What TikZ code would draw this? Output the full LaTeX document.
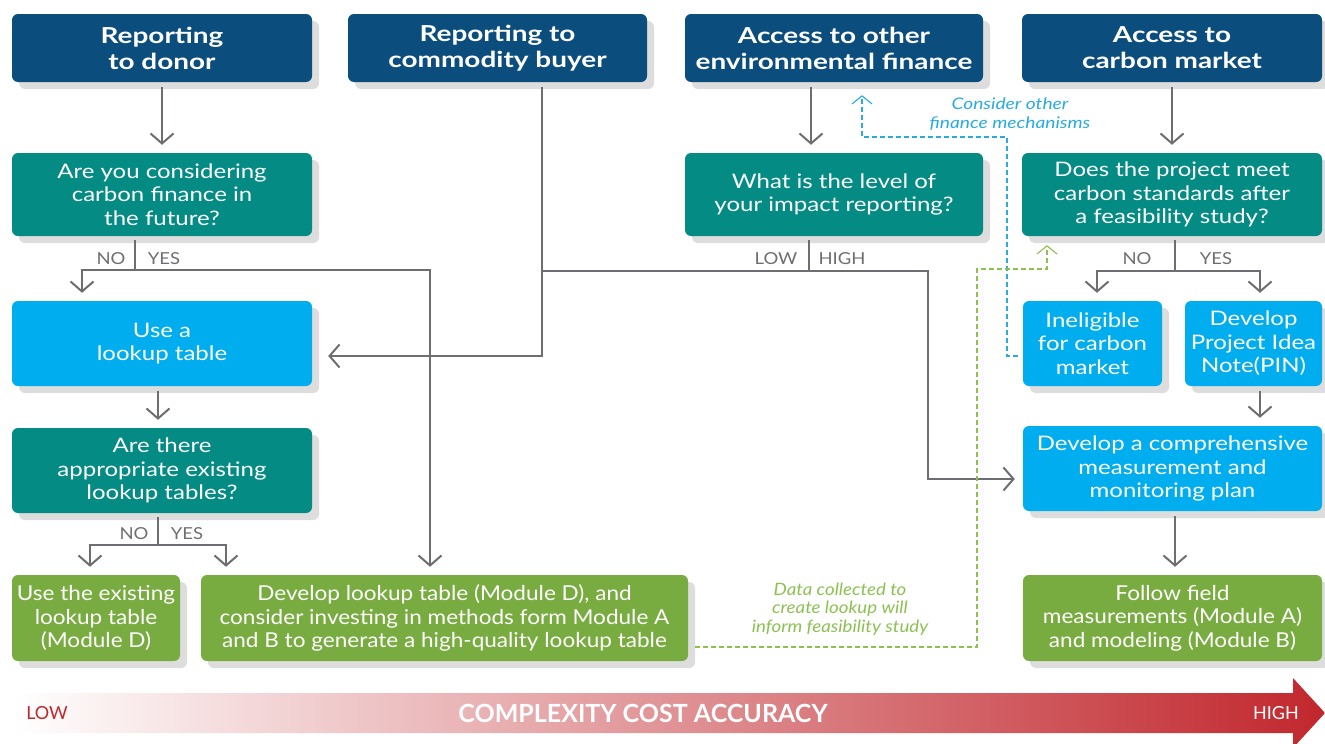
\documentclass[tikz,border=0pt]{standalone}
\usepackage{fontspec}
\setmainfont{Lato}
\newfontfamily\headfont[FakeStretch=1.27]{Lato}
\newfontfamily\boxfont[FakeStretch=1.2]{Lato}
\newfontfamily\leaffont[FakeStretch=1.1]{Lato}
\newfontfamily\tagfont[FakeStretch=1.12]{Lato}
\usetikzlibrary{arrows.meta,shadows}

\definecolor{navy}{HTML}{0B4D7D}
\definecolor{askteal}{HTML}{038B84}
\definecolor{skyblue}{HTML}{00AEEF}
\definecolor{leafgreen}{HTML}{79AC40}
\definecolor{linegray}{HTML}{6D6E71}
\definecolor{shadowgray}{HTML}{DDDDDD}
\definecolor{noteblue}{HTML}{29ABE2}
\definecolor{notegreen}{HTML}{8CC152}
\definecolor{arrowred}{HTML}{C1272D}
\definecolor{midsalmon}{HTML}{DF9A88}

\tikzset{
  box/.style={rounded corners=6pt, align=center, text=white, inner sep=2pt,
    general shadow={fill=shadowgray, shadow xshift=7pt, shadow yshift=-7pt}},
  head/.style={box, fill=navy, minimum height=68pt,
    font=\headfont\fontsize{22}{26}\selectfont\bfseries},
  ask/.style={box, fill=askteal, minimum height=83pt,
    font=\boxfont\fontsize{20}{23.5}\selectfont},
  act/.style={box, fill=skyblue, minimum height=85pt,
    font=\boxfont\fontsize{20}{23.5}\selectfont},
  leaf/.style={box, fill=leafgreen, minimum height=86pt,
    font=\leaffont\fontsize{20.5}{23.5}\selectfont},
  wire/.style={draw=linegray, line width=2pt},
  flow/.style={wire, -{Straight Barb[length=10pt,width=23pt]},
    shorten <=5pt, shorten >=8pt},
  hint/.style={line width=1.1pt, dash pattern=on 5pt off 3pt,
    -{Straight Barb[length=8pt,width=20pt]}},
  tag/.style={text=linegray, font=\tagfont\fontsize{16.5}{18}\selectfont},
  remark/.style={align=center, font=\boxfont\fontsize{16}{18.5}\selectfont\itshape}
}

\begin{document}
\begin{tikzpicture}[x=1pt, y=-1pt]
\useasboundingbox (0,0) rectangle (1325,744);

% top row: reporting goals
\node[head, minimum width=300pt] (h1) at (162,48) {Reporting\\to donor};
\node[head, minimum width=299pt] (h2) at (497.5,48) {Reporting to\\commodity buyer};
\node[head, minimum width=298pt] (h3) at (834,48) {Access to other\\environmental finance};
\node[head, minimum width=300pt] (h4) at (1172,48) {Access to\\carbon market};

% questions
\node[ask, minimum width=300pt] (q1) at (162,194.5) {Are you considering\\carbon finance in\\the future?};
\node[ask, minimum width=298pt] (q3) at (834,194.5) {What is the level of\\your impact reporting?};
\node[ask, minimum width=300pt] (q4) at (1172,194.5) {Does the project meet\\carbon standards after\\a feasibility study?};
\node[ask, minimum width=300pt, minimum height=85pt] (q2) at (162,470.5) {Are there\\appropriate existing\\lookup tables?};

% actions
\node[act, minimum width=300pt] (lookup) at (162,343.5) {Use a\\lookup table};
\node[act, minimum width=139pt] (inelig) at (1092.5,343.5) {Ineligible\\for carbon\\market};
\node[act, minimum width=137pt] (pin) at (1253.5,343.5) {Develop\\Project Idea\\Note(PIN)};
\node[act, minimum width=299pt] (plan) at (1172.5,468.5) {Develop a comprehensive\\measurement and\\monitoring plan};

% methods
\node[leaf, minimum width=168pt] (existing) at (96,618) {Use the existing\\lookup table\\(Module D)};
\node[leaf, minimum width=487pt] (develop) at (444.5,618) {Develop lookup table (Module D), and\\consider investing in methods form Module A\\and B to generate a high-quality lookup table};
\node[leaf, minimum width=299pt] (field) at (1172.5,618) {Follow field\\measurements (Module A)\\and modeling (Module B)};

% branch points
\coordinate (q1fork) at (135,270);
\coordinate (q2fork) at (158,545);
\coordinate (q3fork) at (809,271);
\coordinate (q4fork) at (1175,271);

% left column
\draw[flow] (h1) -- (q1);
\draw[wire, shorten <=4pt] (q1.south -| q1fork) -- (q1fork);
\draw[flow, shorten <=0pt] (q1fork) -| (82,0 |- lookup.north);
\draw[flow, shorten <=0pt] (q1fork) -| (430,0 |- develop.north);
\node[tag] at (111,259) {NO};
\node[tag] at (164,259) {YES};
\draw[flow] (158,0 |- lookup.south) -- (158,0 |- q2.north);
\draw[wire, shorten <=4pt] (q2.south -| q2fork) -- (q2fork);
\draw[flow, shorten <=0pt] (q2fork) -| (90,0 |- existing.north);
\draw[flow, shorten <=0pt] (q2fork) -| (226,0 |- develop.north);
\node[tag] at (134,534) {NO};
\node[tag] at (187,534) {YES};

% commodity buyer and impact level
\draw[flow, shorten >=16pt] (542,0 |- h2.south) |- (lookup.east |- 0,356);
\draw[flow] (811,0 |- h3.south) -- (811,0 |- q3.north);
\draw[wire, shorten <=4pt] (q3.south -| q3fork) -- (q3fork);
\draw[wire] (q3fork) -- (542,0 |- q3fork);
\draw[flow, shorten <=0pt] (q3fork) -| (928,479) -- (plan.west |- 0,479);
\node[tag] at (776,259) {LOW};
\node[tag] at (842,259) {HIGH};

% carbon market column
\draw[flow] (h4) -- (q4);
\draw[wire, shorten <=4pt] (q4.south -| q4fork) -- (q4fork);
\draw[flow, shorten <=0pt] (q4fork) -| (1097,0 |- inelig.north);
\draw[flow, shorten <=0pt] (q4fork) -| (1260,0 |- pin.north);
\node[tag] at (1137,259) {NO};
\node[tag] at (1216,259) {YES};
\draw[flow] (1260,0 |- pin.south) -- (1260,0 |- plan.north);
\draw[flow] (1175,0 |- plan.south) -- (1175,0 |- field.north);

% dashed hints
\draw[hint, noteblue, shorten <=5pt, shorten >=13pt] (inelig.west |- 0,356) -| (1007,137) -| (862,0 |- h3.south);
\node[remark, text=noteblue] (other) at (1010,114) {Consider other\\finance mechanisms};
\draw[hint, notegreen, shorten <=7pt, shorten >=9pt] (develop.east |- 0,647) -| (977,269) -| (1047,0 |- q4.south);
\node[remark, text=notegreen, font=\leaffont\fontsize{17}{18.5}\selectfont\itshape] (data) at (840,609) {Data collected to\\create lookup will\\inform feasibility study};

% scale arrow along the bottom
\shade[left color=white, middle color=midsalmon, right color=arrowred]
  (14,693) -- (1293,693) -- (1293,678) -- (1325,713) -- (1293,748) -- (1293,733) -- (14,733) -- cycle;
\node[text=arrowred, font=\fontsize{18}{20}\selectfont] (low) at (47,713) {LOW};
\node[text=white, font=\fontsize{25}{28}\selectfont\bfseries] (axis) at (643,713) {COMPLEXITY COST ACCURACY};
\node[text=white, font=\fontsize{18}{20}\selectfont] (high) at (1276,713) {HIGH};
\end{tikzpicture}
\end{document}
